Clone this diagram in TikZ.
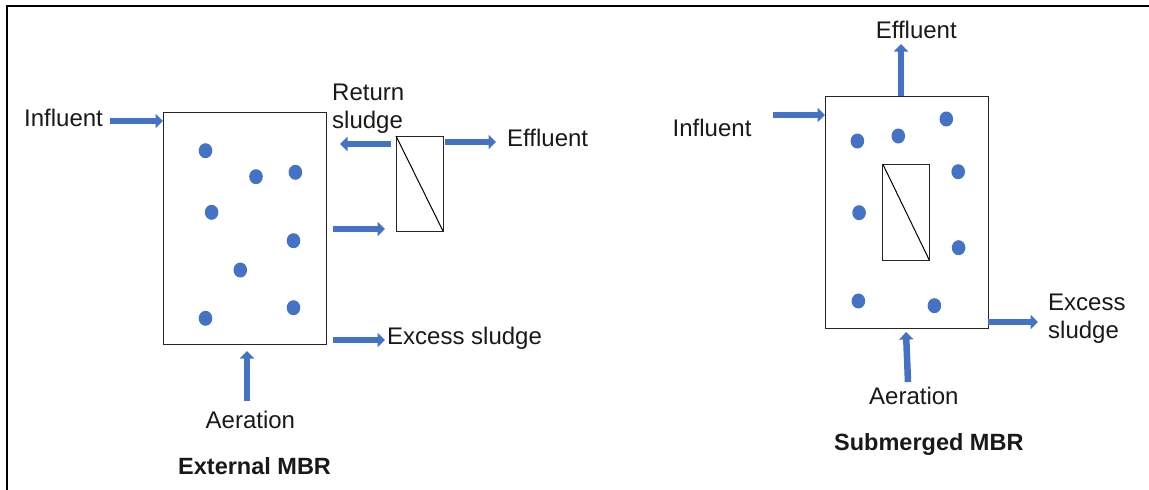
\documentclass[tikz,border=0pt]{standalone}
\usepackage{fontspec}
\setmainfont{Liberation Sans}
\usetikzlibrary{arrows.meta}
\definecolor{flow}{HTML}{4472C4}
\begin{document}
\begin{tikzpicture}[x=1pt,y=-1pt,
  tank/.style={draw=black!85,line width=1pt,rectangle,inner sep=0pt,outer sep=0pt,minimum width=163pt,minimum height=232pt},
  module/.style={draw=black!85,line width=1pt,rectangle,inner sep=0pt,outer sep=0pt,minimum width=47pt,minimum height=95pt},
  flowarrow/.style={draw=flow,line width=6.5pt,-{Triangle[width=14pt,length=7.5pt]}},
  lbl/.style={font=\fontsize{24}{28}\selectfont,inner sep=0pt,text=black!90},
  title/.style={font=\fontsize{23.5}{28}\selectfont\bfseries,inner sep=0pt,text=black!90},
  dot/.style={fill=flow}]
\useasboundingbox (0,0) rectangle (1149,490);
\draw[line width=2pt] (6.5,490) -- (6.5,6) -- (1149,6);

% ---------- External MBR ----------
\node[tank] (tankL) at (244.5,228) {};
\node[module] (modL) at (419.5,183.5) {};
\draw[line width=1pt] (modL.north west) -- (modL.south east);
\foreach \px/\py in {205.5/150.7,256/176.7,295.4/172.3,211.6/212.3,293.5/240.7,240.3/270,293.5/307.7,205.5/318.3}
  \fill[dot] (\px,\py) ellipse [x radius=6.8pt,y radius=7.5pt];

\coordinate (inL) at (110,121);
\coordinate (retL) at (340,144);
\coordinate (effL) at (496,142);
\coordinate (feedL) at (333,229);
\coordinate (exL0) at (333,340);
\coordinate (exL) at (385,340);
\coordinate (aerL) at (247,401);

\draw[flowarrow] (inL) -- (inL -| tankL.west);
\draw[flowarrow] (retL -| modL.west) ++(-5,0) -- (retL);
\draw[flowarrow] (effL -| modL.east) ++(2,0) -- (effL);
\draw[flowarrow] (feedL) -- ([xshift=-11pt]feedL -| modL.west);
\draw[flowarrow] (exL0) -- (exL);
\draw[flowarrow] (aerL) -- ([yshift=-7pt]aerL |- tankL.south);

\node[lbl,anchor=base west] (tinL) at (24,126) {Influent};
\node[lbl,anchor=base west] (tretL1) at (332,100) {Return};
\node[lbl,anchor=base west] (tretL2) at (332,128) {sludge};
\node[lbl,anchor=base west] (teffL) at (507,146) {Effluent};
\node[lbl,anchor=base west] (texL) at (387,344) {Excess sludge};
\node[lbl,anchor=base west] (taerL) at (205.5,428) {Aeration};
\node[title,anchor=base west] (ttitL) at (178,474) {External MBR};

% ---------- Submerged MBR ----------
\node[tank] (tankR) at (906.5,212) {};
\node[module,minimum width=46.5pt,minimum height=96pt] (modR) at (906,212) {};
\draw[line width=1pt] (modR.north west) -- (modR.south east);
\foreach \px/\py in {857.4/141,898.3/136,946.3/119,958.2/171.7,859.1/212.7,958.6/247.7,858.4/301,934.4/305.7}
  \fill[dot] (\px,\py) ellipse [x radius=6.8pt,y radius=7.5pt];

\coordinate (effR) at (901,44);
\coordinate (inR) at (773,115);
\coordinate (exR) at (1038,322);
\coordinate (aerR) at (908,382);
\coordinate (aerRt) at (906,332);

\draw[flowarrow] (effR |- tankR.north) -- (effR);
\draw[flowarrow] (inR) -- (inR -| tankR.west);
\draw[flowarrow] (exR -| tankR.east) -- (exR);
\draw[flowarrow] (aerR) -- (aerRt);

\node[lbl,anchor=base west] (teffR) at (875.6,38) {Effluent};
\node[lbl,anchor=base west] (tinR) at (672.5,136) {Influent};
\node[lbl,anchor=base west] (texR1) at (1048,310) {Excess};
\node[lbl,anchor=base west] (texR2) at (1048,338) {sludge};
\node[lbl,anchor=base west] (taerR) at (869,404) {Aeration};
\node[title,anchor=base west] (ttitR) at (834,450) {Submerged MBR};
\end{tikzpicture}
\end{document}
